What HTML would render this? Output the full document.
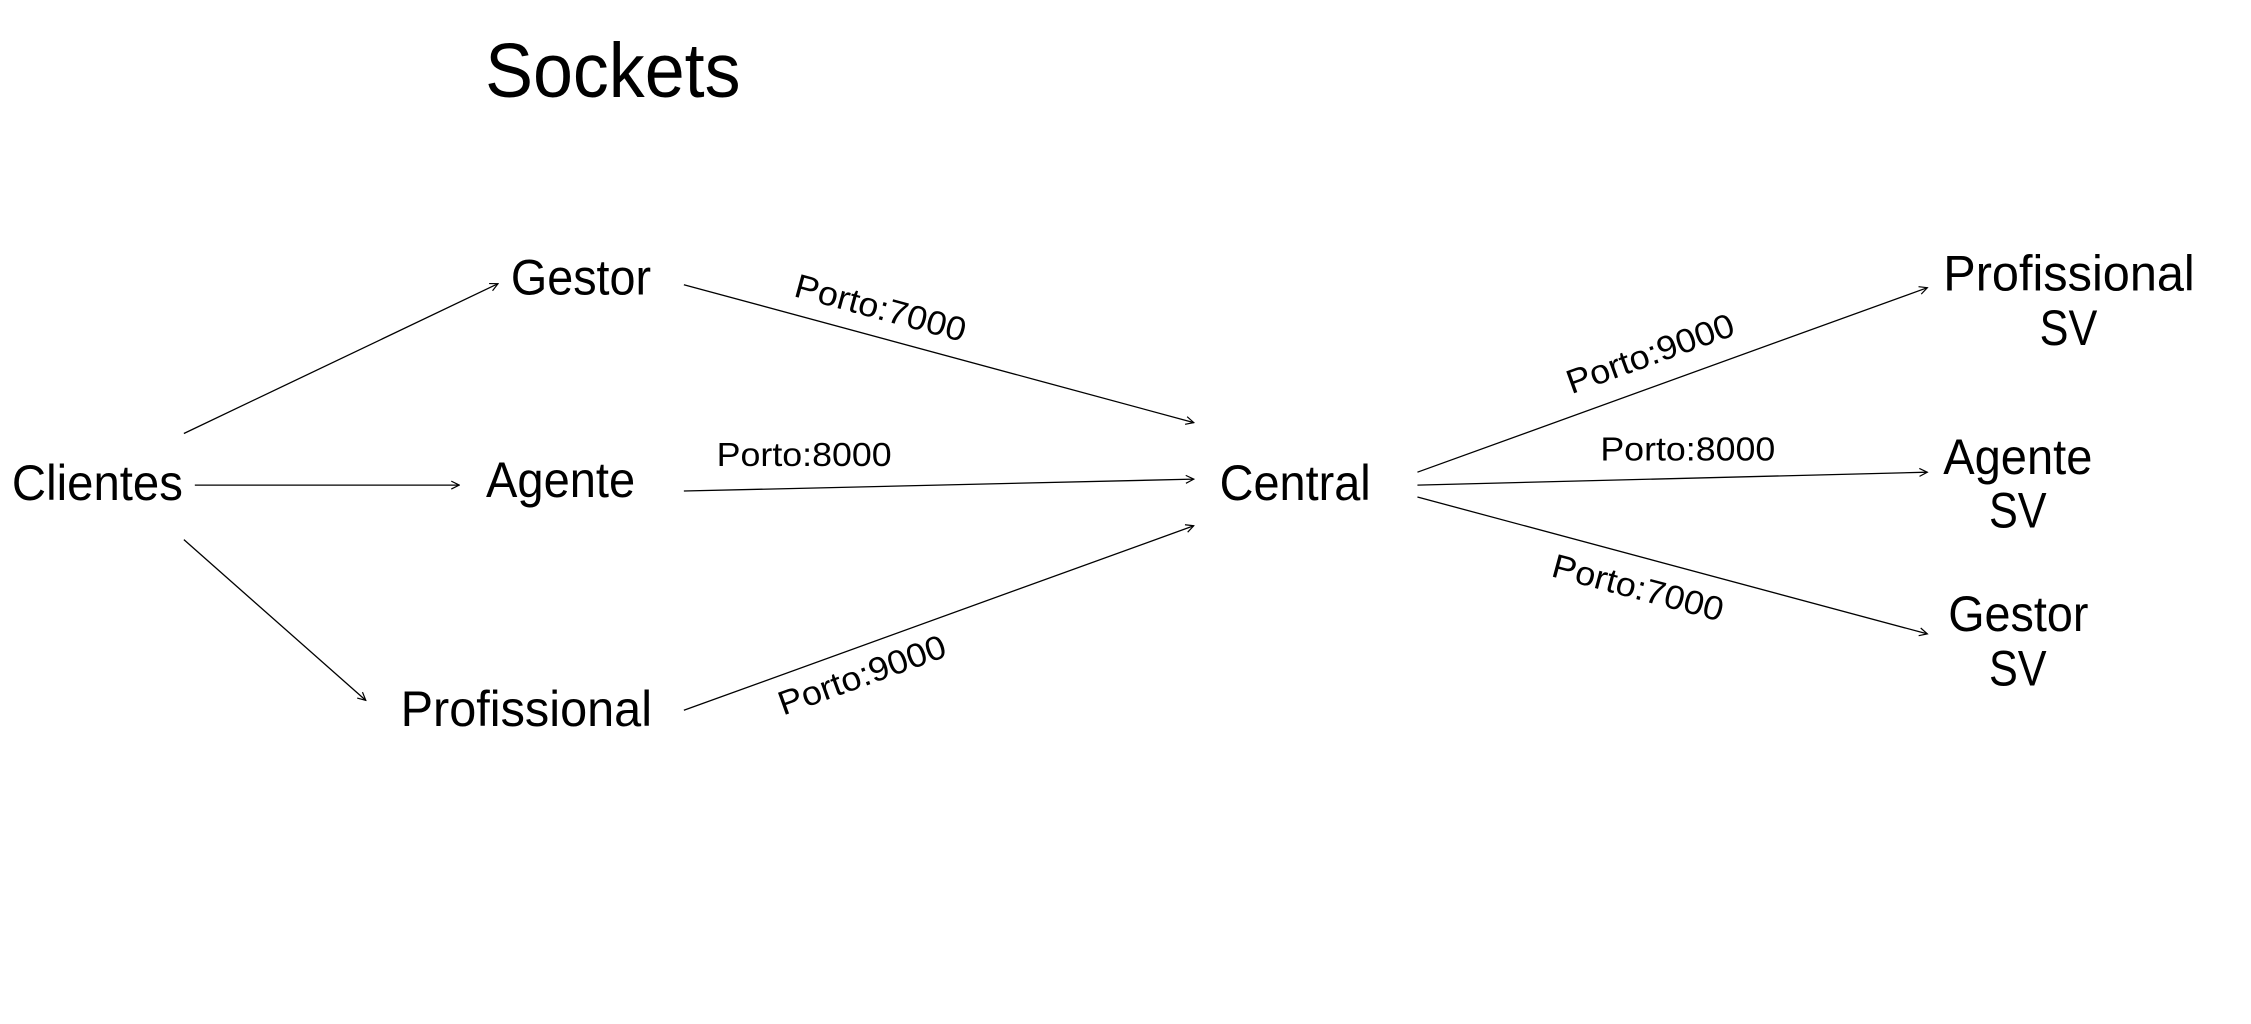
<!DOCTYPE html>
<html><head><meta charset="utf-8"><style>
html,body{margin:0;padding:0;background:#fff;}
svg{display:block;}
text{font-family:"Liberation Sans",sans-serif;fill:#000;}
</style></head><body>
<svg width="2251" height="1024" viewBox="0 0 2251 1024" xmlns="http://www.w3.org/2000/svg">
<defs>
<marker id="a" markerWidth="10" markerHeight="10" refX="9" refY="5" orient="auto" markerUnits="userSpaceOnUse">
<path d="M1,1 L9,5 L1,9" fill="none" stroke="#000" stroke-width="1.2"/>
</marker>
</defs>
<g transform="scale(0.994,0.992)">
<text x="488" y="98" font-size="78" textLength="257" lengthAdjust="spacingAndGlyphs">Sockets</text>

<g font-size="50">
<text x="514" y="297" textLength="141" lengthAdjust="spacingAndGlyphs">Gestor</text>
<text x="12" y="504" textLength="172" lengthAdjust="spacingAndGlyphs">Clientes</text>
<text x="489" y="501" textLength="150" lengthAdjust="spacingAndGlyphs">Agente</text>
<text x="403" y="732" textLength="253" lengthAdjust="spacingAndGlyphs">Profissional</text>
<text x="1227" y="504" textLength="152" lengthAdjust="spacingAndGlyphs">Central</text>
<text x="1955" y="293" textLength="253" lengthAdjust="spacingAndGlyphs">Profissional</text>
<text x="2052" y="348" textLength="58" lengthAdjust="spacingAndGlyphs">SV</text>
<text x="1955" y="478" textLength="150" lengthAdjust="spacingAndGlyphs">Agente</text>
<text x="2001" y="532" textLength="58" lengthAdjust="spacingAndGlyphs">SV</text>
<text x="1960" y="636" textLength="141" lengthAdjust="spacingAndGlyphs">Gestor</text>
<text x="2001" y="691" textLength="58" lengthAdjust="spacingAndGlyphs">SV</text>
</g>

<g stroke="#000" stroke-width="1.3" fill="none" marker-end="url(#a)">
<line x1="185" y1="437" x2="501" y2="286"/>
<line x1="196" y1="489" x2="462" y2="489"/>
<line x1="185" y1="544" x2="368" y2="706"/>
<line x1="688" y1="287" x2="1201" y2="426"/>
<line x1="688" y1="495" x2="1201" y2="483"/>
<line x1="688" y1="716" x2="1201" y2="530"/>
<line x1="1426" y1="476" x2="1939" y2="290"/>
<line x1="1426" y1="489" x2="1939" y2="476"/>
<line x1="1426" y1="501" x2="1939" y2="639"/>
</g>

<g font-size="34" text-anchor="middle">
<text x="0" y="12" transform="translate(886,310) rotate(15.2)" textLength="177" lengthAdjust="spacingAndGlyphs">Porto:7000</text>
<text x="809" y="470" textLength="176" lengthAdjust="spacingAndGlyphs">Porto:8000</text>
<text x="0" y="12" transform="translate(867,680) rotate(-19.9)" textLength="177" lengthAdjust="spacingAndGlyphs">Porto:9000</text>
<text x="0" y="12" transform="translate(1660,356) rotate(-19.9)" textLength="177" lengthAdjust="spacingAndGlyphs">Porto:9000</text>
<text x="1698" y="464" textLength="176" lengthAdjust="spacingAndGlyphs">Porto:8000</text>
<text x="0" y="12" transform="translate(1648,592) rotate(15)" textLength="177" lengthAdjust="spacingAndGlyphs">Porto:7000</text>
</g>
</g>
</svg>
</body></html>
